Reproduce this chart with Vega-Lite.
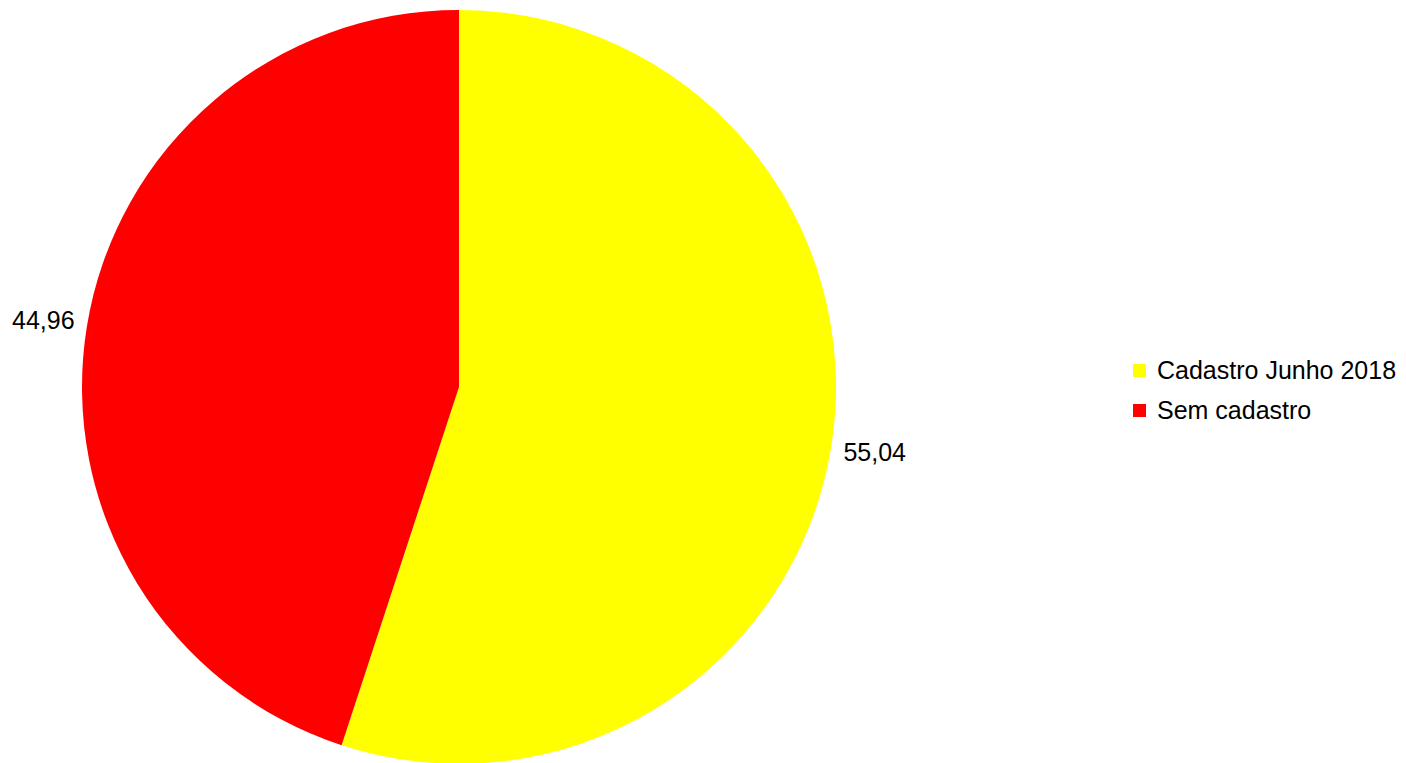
{
  "$schema": "https://vega.github.io/schema/vega-lite/v6.json",
  "width": 918,
  "height": 774,
  "autosize": {"type": "none"},
  "padding": {"left": 0, "top": 0, "right": 488, "bottom": 0},
  "background": "#ffffff",
  "config": {"view": {"stroke": null}, "font": "Liberation Sans"},
  "data": {"values": [
    {"categoria": "Cadastro Junho 2018", "valor": 55.04, "rotulo": "55,04", "ordem": 1},
    {"categoria": "Sem cadastro", "valor": 44.96, "rotulo": "44,96", "ordem": 2}
  ]},
  "encoding": {
    "theta": {"field": "valor", "type": "quantitative", "stack": true},
    "order": {"field": "ordem", "type": "quantitative"}
  },
  "layer": [
    {
      "mark": {"type": "arc", "outerRadius": 377},
      "encoding": {
        "color": {
          "field": "categoria",
          "type": "nominal",
          "scale": {"domain": ["Cadastro Junho 2018", "Sem cadastro"], "range": ["#ffff00", "#ff0000"]},
          "legend": {
            "title": null,
            "orient": "none",
            "legendX": 1127,
            "legendY": 358,
            "padding": 0,
            "symbolType": "square",
            "symbolSize": 169,
            "symbolStrokeWidth": 0,
            "labelFontSize": 25,
            "labelFont": "Liberation Sans",
            "labelColor": "#000000",
            "labelOffset": 5,
            "rowPadding": 14,
            "labelLimit": 400
          }
        }
      }
    },
    {
      "mark": {"type": "text", "radius": 421, "fontSize": 25, "font": "Liberation Sans", "color": "#000000"},
      "encoding": {"text": {"field": "rotulo", "type": "nominal"}}
    }
  ]
}
